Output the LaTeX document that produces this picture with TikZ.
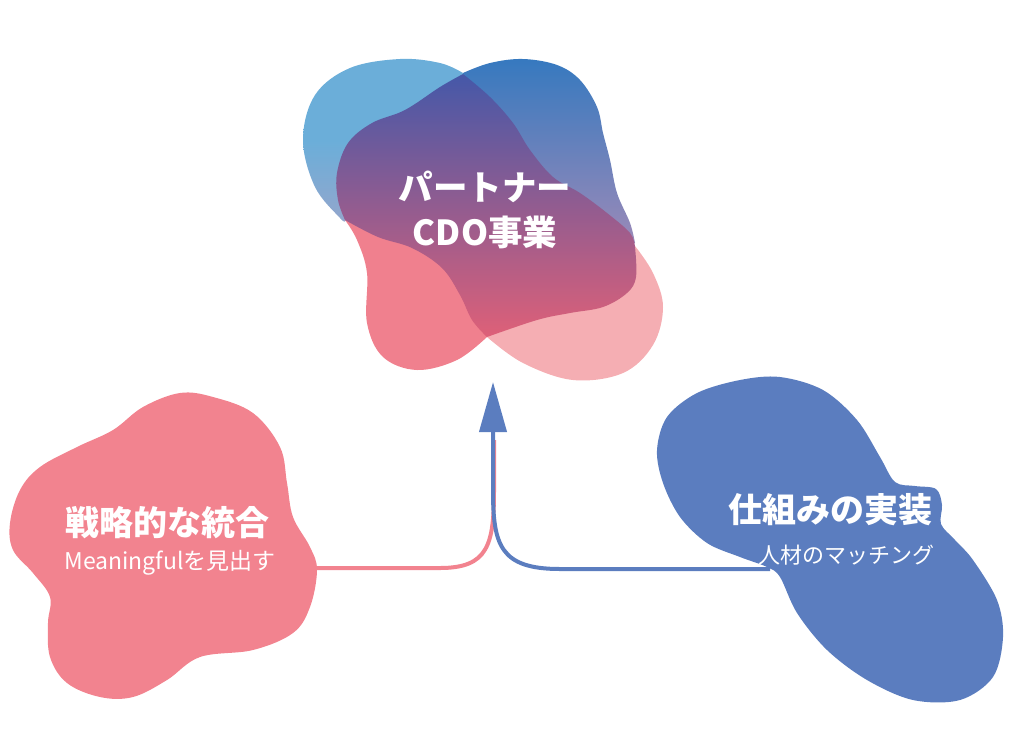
\documentclass[tikz,border=0pt]{standalone}
\usepackage{fontspec}
\newfontfamily\jp{Noto Sans CJK JP}
\usetikzlibrary{arrows.meta}
\definecolor{pinkbl}{HTML}{F2838F}
\definecolor{bluebl}{HTML}{5B7DBF}
\definecolor{lblue}{HTML}{6BAED9}
\definecolor{lbluebot}{HTML}{94A6CC}
\definecolor{lpink}{HTML}{F5AEB3}
\definecolor{midpink}{HTML}{F0808E}
\definecolor{dbtop}{HTML}{3679BF}
\definecolor{dbbot}{HTML}{9C8AB8}
\definecolor{ctop}{HTML}{4558A8}
\definecolor{cmid}{HTML}{8A5F9A}
\definecolor{cbot}{HTML}{DE6078}
\tikzset{
  title/.style={text=white, font=\jp\bfseries\fontsize{34}{45}\selectfont, align=center, inner sep=0pt},
  subtitle/.style={text=white, font=\jp\fontsize{22}{26}\selectfont, inner sep=0pt},
  conn/.style={line width=4pt},
}
\begin{document}
\begin{tikzpicture}[x=1pt,y=-1pt]
\useasboundingbox (0,0) rectangle (1024,742);

% ---- top composite blob ----
% light blue
\shade[top color=lblue, bottom color=lbluebot, middle color=lblue]
  plot[smooth, tension=0.6] coordinates {(463,73) (440,63) (400,59) (350,68) (315,95) (303,140) (315,187) (340,218) (345,221)}
  -- plot[smooth] coordinates {(345,221) (400,210) (470,150) (480,100) (463,73)} -- cycle;
% dark blue
\shade[top color=dbtop, bottom color=dbbot]
  plot[smooth, tension=0.6] coordinates {(463,73) (490,63) (523,59) (557,65) (580,80) (597,107) (603,133) (610,160) (617,193) (630,223) (635,243)}
  -- plot[smooth] coordinates {(635,243) (600,240) (540,200) (480,120) (463,73)} -- cycle;
% pink
\fill[midpink]
  plot[smooth, tension=0.6] coordinates {(345,220) (357,240) (367,273) (367,323) (383,357) (417,370) (457,360) (487,337)}
  -- plot[smooth] coordinates {(487,337) (500,290) (430,235) (380,225) (345,220)} -- cycle;
% light pink
\fill[lpink]
  plot[smooth, tension=0.6] coordinates {(487,337) (523,363) (573,380) (623,373) (653,345) (663,307) (653,273) (635,246)}
  -- plot[smooth] coordinates {(635,246) (600,280) (530,310) (487,337)} -- cycle;
% centre
\shade[top color=ctop, middle color=cmid, bottom color=cbot]
  plot[smooth, tension=0.6] coordinates {(463,74) (490,97) (513,123) (530,150) (553,177) (580,193) (607,213) (630,233) (635,247)}
  -- plot[smooth, tension=0.6] coordinates {(635,247) (636,277) (627,293) (603,307) (570,313) (537,320) (487,337)}
  -- plot[smooth, tension=0.6] coordinates {(487,337) (472,320) (460,295) (442,268) (412,248) (378,237) (345,220)}
  -- plot[smooth, tension=0.6] coordinates {(345,220) (338,200) (337,173) (348,143) (372,123) (405,110) (440,87) (463,74)} -- cycle;
\node[title, font=\jp\bfseries\fontsize{34.5}{45}\selectfont] (top) at (485,210) {パートナー\\CDO事業};

% ---- left blob ----
\fill[pinkbl] plot[smooth cycle, tension=0.6] coordinates {
 (180,393) (213,397) (253,413) (280,447) (287,483) (293,517) (310,547) (317,570)
 (310,607) (293,633) (253,650) (200,657) (167,680) (133,697) (100,697) (67,683)
 (50,657) (48,623) (50,597) (33,573) (13,550) (10,523) (20,490) (40,467)
 (77,447) (113,430) (143,407)};
\node[title] (lt) at (167,523) {戦略的な統合};
\node[subtitle, font=\jp\fontsize{23}{26}\selectfont] (ls) at (170,563) {Meaningfulを見出す};

% ---- right blob ----
\fill[bluebl] plot[smooth cycle, tension=0.55] coordinates {
 (740,380) (780,377) (823,390) (857,420) (880,457) (895,482) (915,486) (936,489)
 (942,505) (941,524) (955,540) (973,560)
 (997,600) (1003,637) (993,677) (960,700) (913,700) (867,680) (827,650) (797,613)
 (780,577) (767,567) (740,557) (707,543) (680,517) (663,483) (657,450) (667,417)
 (697,393)};
\node[title] (rt) at (830,510) {仕組みの実装};
\node[subtitle, anchor=east] (rs) at (935,555) {人材のマッチング};

% ---- connectors ----
\coordinate (lsrc) at (316,568);
\coordinate (rsrc) at (770,569);
\coordinate (tip) at (493,382);
\coordinate (pj) at (494,440);
\draw[conn, pinkbl] (lsrc) -- (440,568) .. controls (488,568) and (494,545) .. (494,490) -- (pj);
\draw[conn, bluebl, -{Triangle[width=27pt,length=50pt]}] (rsrc) -- (560,569) .. controls (500,569) and (493,545) .. (493,490) -- (tip);
\end{tikzpicture}
\end{document}
